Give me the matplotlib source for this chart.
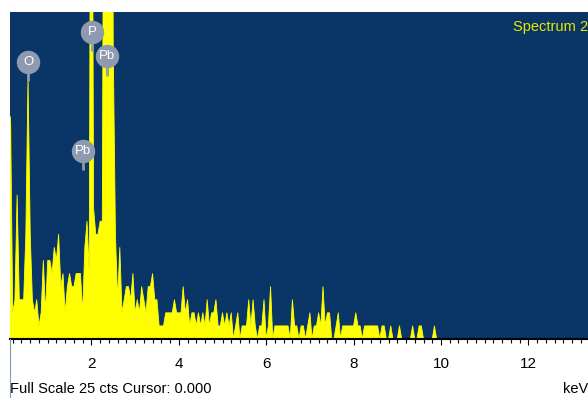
import numpy as np
import matplotlib
matplotlib.use("Agg")
import matplotlib.pyplot as plt
from matplotlib.lines import Line2D
from matplotlib.ticker import MultipleLocator, FixedLocator

plt.rcParams['font.family'] = ['Liberation Sans Narrow', 'Liberation Sans', 'DejaVu Sans']

# EDS spectrum, 0.05 keV channels starting at 0.10 keV (counts per channel)
start_kev = 0.10
step_kev = 0.05
counts = [
    4, 17, 2, 3, 11, 3, 3, 3, 8, 20, 8, 3, 2, 3, 1, 2, 6, 2, 6, 6,          # 0.10 - 1.05
    5, 7, 6, 8, 4, 5, 2, 4, 5, 4, 4, 5, 5, 5, 2, 7, 9, 5, 60, 10,          # 1.10 - 2.05
    8, 8, 9, 9, 60, 150, 150, 80, 22, 8, 3, 7, 2, 3, 4, 4, 3, 5, 2, 3,     # 2.10 - 3.05
    2, 4, 3, 2, 4, 4, 5, 3, 3, 1, 1, 1, 2, 2, 2, 2, 3, 2, 2, 2,            # 3.10 - 4.05
    4, 2, 3, 1, 2, 2, 1, 2, 1, 2, 1, 3, 1, 2, 2, 3, 1, 1, 2, 1,            # 4.10 - 5.05
    2, 1, 2, 0, 1, 2, 0, 1, 1, 1, 3, 1, 3, 1, 0, 1, 1, 3, 0, 1,            # 5.10 - 6.05
    4, 0, 1, 1, 1, 1, 1, 1, 1, 0, 3, 1, 1, 0, 1, 1, 0, 1, 2, 0,            # 6.10 - 7.05
    1, 1, 2, 1, 4, 1, 2, 2, 0, 0, 1, 2, 0, 1, 1, 1, 1, 1, 1, 2,            # 7.10 - 8.05
    1, 1, 0, 1, 1, 1, 1, 1, 1, 1, 0, 1, 1, 0, 0, 1, 0, 0, 0, 1,            # 8.10 - 9.05
    0, 0, 0, 0, 0, 1, 0, 0, 1, 1, 0, 0, 0, 0, 0, 1, 0, 0, 0,               # 9.10 - 10.00
]
channel_kev = np.round(start_kev + step_kev * np.arange(len(counts)), 2)

# element markers: name, line energy (keV), marker height (cts)
peak_names = ["O", "P", "Pb", "Pb"]
peak_kev = [0.55, 2.01, 2.36, 1.81]
peak_cts = [21.2, 23.5, 21.6, 14.4]

full_scale = 25
x_ticks = [2, 4, 6, 8, 10, 12]

BG = '#0a3567'
YEL = '#ffff00'
LBL = '#8e9ab0'

fig = plt.figure(figsize=(5.88, 3.98), dpi=100)
ax = fig.add_axes([10 / 588, 59 / 398, 578 / 588, 327 / 398])
ax.set_facecolor(BG)

ax.fill_between(channel_kev, counts, 0, color=YEL, lw=0)
ax.plot(channel_kev, counts, color=YEL, lw=0.6)

ax.set_xlim(6 / 43.7, 584 / 43.7)
ax.set_ylim(0, full_scale)

# peak id balloons
for name, e, c in zip(peak_names, peak_kev, peak_cts):
    ax.plot([e, e], [c - 1.5, c], color=LBL, lw=2, zorder=4, solid_capstyle='butt')
    ax.scatter([e], [c], s=285, color=LBL, zorder=5, lw=0)
    ax.text(e, c, name, color='white', fontsize=9.5, ha='center', va='center',
            zorder=6, family=['Liberation Sans', 'DejaVu Sans'])

ax.text((513 - 10) / 578, 0.955, "Spectrum 2", transform=ax.transAxes,
        color='#e8e800', fontsize=10.5, ha='left', va='center', clip_on=False)

for s in ['top', 'right', 'left']:
    ax.spines[s].set_visible(False)
ax.spines['bottom'].set_color('black')
ax.spines['bottom'].set_linewidth(1.5)

ax.yaxis.set_visible(False)
ax.xaxis.set_major_locator(FixedLocator(x_ticks))
ax.xaxis.set_minor_locator(MultipleLocator(0.2))
ax.tick_params(axis='x', which='major', direction='out', length=4, width=0.8,
               labelsize=11, pad=9, color='black')
ax.tick_params(axis='x', which='minor', direction='out', length=3, width=0.8,
               color='black')

fig.text(10 / 588, 1 - 389 / 398, "Full Scale 25 cts Cursor: 0.000",
         fontsize=10.5, ha='left', va='center', color='black')
fig.text(563 / 588, 1 - 389 / 398, "keV", fontsize=10.5, ha='left',
         va='center', color='black')
fig.add_artist(Line2D([10 / 588, 10 / 588], [0, 59 / 398], color='#7f9cc8', lw=0.8))

fig.savefig("out.png", dpi=100)
